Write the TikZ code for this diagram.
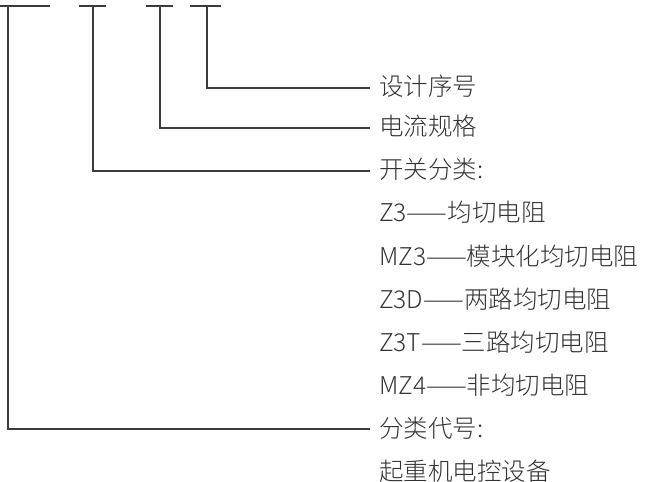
\documentclass[tikz,border=0pt]{standalone}
\usepackage{fontspec}
\setmainfont{Noto Sans CJK SC Light}
\usetikzlibrary{positioning}

\definecolor{linegray}{HTML}{3C3C3C}
\definecolor{textgray}{HTML}{333333}

\tikzset{
  leader/.style={draw=linegray, line width=1.3bp},
  itemtext/.style={anchor=west, inner sep=0pt, text=textgray,
    text height=20bp, text depth=4bp,
    font=\fontsize{24.5bp}{28bp}\selectfont},
}

\begin{document}
\begin{tikzpicture}[x=1bp, y=-1bp]
        \useasboundingbox (0,0) rectangle (648,482);

        % top bars
        \draw[leader] (0,6) -- (50,6);
        \draw[leader] (79,6) -- (106,6);
        \draw[leader] (146,6) -- (173,6);
        \draw[leader] (190,6) -- (221,6);

        \coordinate (daihaotop) at (8,6);
        \coordinate (fenleitop) at (93,6);
        \coordinate (dianliutop) at (160,6);
        \coordinate (xuhaotop) at (207,6);

        \node[itemtext] (xuhao) at (379,88) {设计序号};
        \node[itemtext] (dianliu) at (379,128) {电流规格};
        \node[itemtext] (fenlei) at (379,171) {开关分类:};
        \node[itemtext] (zthree) at (379,214) {Z3——均切电阻};
        \node[itemtext] (mzthree) at (379,257) {MZ3——模块化均切电阻};
        \node[itemtext] (zthreed) at (379,300) {Z3D——两路均切电阻};
        \node[itemtext] (zthreet) at (379,343) {Z3T——三路均切电阻};
        \node[itemtext] (mzfour) at (379,386) {MZ4——非均切电阻};
        \node[itemtext] (daihao) at (379,429) {分类代号:};
        \node[itemtext] (shebei) at (379,472) {起重机电控设备};

        \draw[leader] (xuhaotop) |- ([xshift=-9bp]xuhao.west);
        \draw[leader] (dianliutop) |- ([xshift=-9bp]dianliu.west);
        \draw[leader] (fenleitop) |- ([xshift=-9bp]fenlei.west);
        \draw[leader] (daihaotop) |- ([xshift=-9bp]daihao.west);
\end{tikzpicture}
\end{document}
